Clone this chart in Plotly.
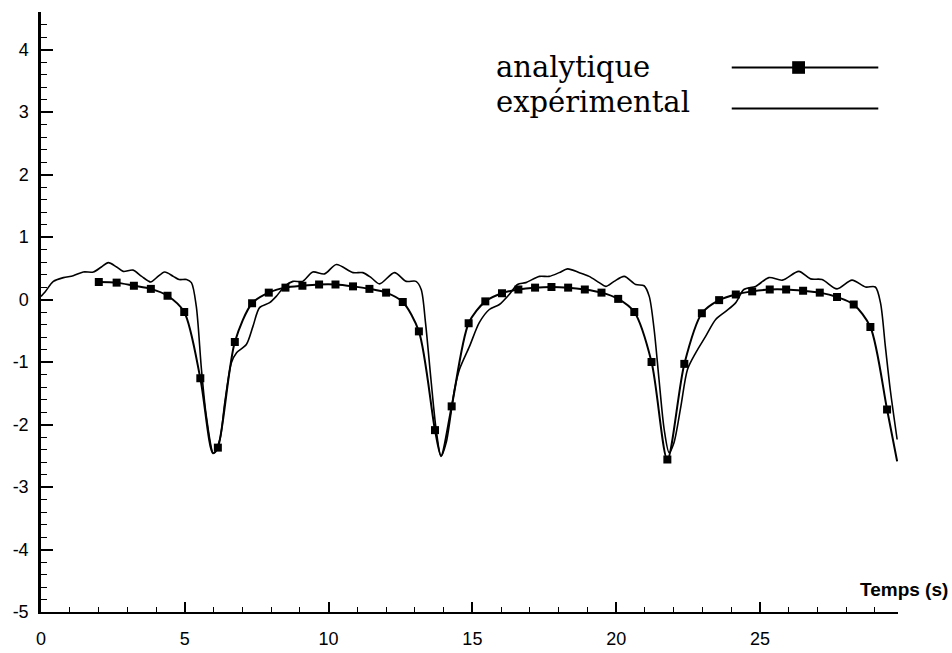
import plotly.graph_objects as go

# ---------------- data ----------------
# analytic solution: sampled points (shown with square markers)
ana_t = [2.01, 2.63, 3.23, 3.82, 4.40, 4.98, 5.54, 6.15, 6.74, 7.34, 7.92, 8.50, 9.09,
         9.67, 10.24, 10.85, 11.42, 12.00, 12.58, 13.14, 13.70, 14.28, 14.87, 15.45,
         16.03, 16.60, 17.18, 17.75, 18.33, 18.91, 19.49, 20.07, 20.63, 21.23, 21.78,
         22.37, 22.98, 23.58, 24.16, 24.73, 25.34, 25.91, 26.50, 27.08, 27.68, 28.26,
         28.84, 29.42]
ana_v = [0.28, 0.27, 0.22, 0.17, 0.06, -0.20, -1.26, -2.37, -0.68, -0.06, 0.11, 0.19, 0.22,
         0.24, 0.24, 0.21, 0.17, 0.11, -0.04, -0.51, -2.09, -1.71, -0.38, -0.03,
         0.10, 0.16, 0.19, 0.20, 0.19, 0.16, 0.11, 0.01, -0.20, -1.00, -2.56,
         -1.03, -0.22, -0.01, 0.08, 0.13, 0.16, 0.16, 0.14, 0.11, 0.04, -0.08,
         -0.44, -1.76]
# analytic curve points between markers (dip bottoms and end of curve)
ana_extra_t = [5.98, 13.91, 29.77]
ana_extra_v = [-2.46, -2.50, -2.59]

# experimental record
exp_t = [0.0, 0.14, 0.43, 0.78, 1.12, 1.47, 1.82, 2.10, 2.34, 2.63, 2.86, 3.20, 3.50, 3.82,
         4.02, 4.30, 4.60, 4.80, 5.06, 5.23, 5.40, 5.58, 5.75, 6.00, 6.22, 6.39, 6.62,
         6.80, 7.14, 7.37, 7.60, 7.95, 8.18, 8.47, 8.76, 9.10, 9.45, 9.86, 10.27, 10.85,
         11.19, 11.48, 11.77, 12.29, 12.70, 13.04, 13.22, 13.37, 13.56, 13.74, 13.91,
         14.09, 14.38, 14.55, 14.90, 15.24, 15.59, 15.94, 16.28, 16.57, 16.86, 17.33,
         17.67, 18.02, 18.31, 18.72, 19.06, 19.41, 19.64, 19.93, 20.28, 20.68, 20.97,
         21.15, 21.32, 21.49, 21.67, 21.84, 22.01, 22.25, 22.48, 22.77, 23.11, 23.46,
         23.81, 24.16, 24.44, 24.85, 25.31, 25.78, 26.35, 26.76, 27.16, 27.68, 28.20,
         28.67, 29.01, 29.19, 29.36, 29.53, 29.77]
exp_v = [0.05, 0.12, 0.29, 0.35, 0.38, 0.44, 0.44, 0.52, 0.59, 0.52, 0.45, 0.47, 0.37, 0.28,
         0.35, 0.44, 0.37, 0.32, 0.32, 0.27, -0.11, -1.12, -1.87, -2.46, -2.24, -1.65, -1.01,
         -0.85, -0.72, -0.43, -0.13, -0.05, 0.05, 0.21, 0.29, 0.29, 0.44, 0.41, 0.56, 0.43,
         0.43, 0.35, 0.25, 0.43, 0.29, 0.29, 0.16, -0.37, -1.28, -2.08, -2.51,
         -2.29, -1.44, -1.12, -0.75, -0.37, -0.16, -0.08, 0.08, 0.24, 0.27, 0.37,
         0.37, 0.43, 0.49, 0.43, 0.37, 0.27, 0.21, 0.29, 0.37, 0.24, 0.22,
         0.05, -0.48, -1.28, -2.08, -2.45, -2.29, -1.71, -1.12, -0.85, -0.59, -0.32,
         -0.19, -0.05, 0.16, 0.21, 0.35, 0.31, 0.45, 0.33, 0.32, 0.17, 0.31,
         0.20, 0.20, -0.05, -0.75, -1.44, -2.24]

x_ticks = [0, 5, 10, 15, 20, 25]
y_ticks = [-5, -4, -3, -2, -1, 0, 1, 2, 3, 4]
y_ticklabels = ["-5", "-4", "-3", "-2", "-1", "0", "1", "2", "3", "4"]
legend_labels = ["analytique", "expérimental"]
x_title = "Temps (s)"

# ---------------- figure ----------------
line_pts = sorted(zip(ana_t + ana_extra_t, ana_v + ana_extra_v))
fig = go.Figure()
fig.add_trace(go.Scatter(x=exp_t, y=exp_v, mode="lines",
                         line=dict(color="black", width=1.6, shape="spline", smoothing=0.8),
                         showlegend=False))
fig.add_trace(go.Scatter(x=[p[0] for p in line_pts], y=[p[1] for p in line_pts], mode="lines",
                         line=dict(color="black", width=2, shape="spline", smoothing=0.8),
                         showlegend=False))
fig.add_trace(go.Scatter(x=ana_t, y=ana_v, mode="markers",
                         marker=dict(symbol="square", size=8, color="black"),
                         showlegend=False))

tickfont = dict(family="Liberation Sans, Arial, sans-serif", size=18, color="black")
fig.update_xaxes(range=[0, 29.8], tickvals=x_ticks, ticks="inside", ticklen=10, tickwidth=1.5,
                 tickcolor="black", showline=True, linecolor="black", linewidth=2,
                 showgrid=False, zeroline=False, tickfont=tickfont, ticklabelstandoff=9,
                 automargin=False,
                 minor=dict(dtick=1, ticks="inside", ticklen=5, tickcolor="black", tickwidth=1.2))
fig.update_yaxes(range=[-5, 4.6], tickvals=y_ticks, ticktext=y_ticklabels, ticks="inside",
                 ticklen=12, tickwidth=1.5, tickcolor="black", showline=True, linecolor="black",
                 linewidth=2.5, showgrid=False, zeroline=False, tickfont=tickfont,
                 ticklabelstandoff=6, automargin=False,
                 minor=dict(dtick=0.2, ticks="inside", ticklen=6, tickcolor="black", tickwidth=1.2))

serif = dict(family="DejaVu Serif, serif", size=29, color="black")
fig.add_annotation(xref="paper", yref="paper", x=0.529, y=0.909, text=legend_labels[0],
                   showarrow=False, xanchor="left", yanchor="middle", font=serif)
fig.add_annotation(xref="paper", yref="paper", x=0.529, y=0.850, text=legend_labels[1],
                   showarrow=False, xanchor="left", yanchor="middle", font=serif)
fig.add_shape(type="line", xref="paper", yref="paper", x0=0.806, x1=0.977, y0=0.9075, y1=0.9075,
              line=dict(color="black", width=2))
fig.add_shape(type="rect", xref="paper", yref="paper", x0=0.8765, x1=0.8915, y0=0.897, y1=0.918,
              line=dict(color="black", width=0), fillcolor="black")
fig.add_shape(type="line", xref="paper", yref="paper", x0=0.806, x1=0.977, y0=0.839, y1=0.839,
              line=dict(color="black", width=2))
fig.add_annotation(xref="paper", yref="paper", x=1.0607, y=0.0375, text="<b>" + x_title + "</b>",
                   showarrow=False, xanchor="right", yanchor="middle",
                   font=dict(family="Liberation Sans, Arial, sans-serif", size=19, color="black"))

fig.update_layout(width=952, height=653, margin=dict(l=41, r=54, t=12, b=41),
                  plot_bgcolor="white", paper_bgcolor="white", showlegend=False)
fig.write_html("out.html")
